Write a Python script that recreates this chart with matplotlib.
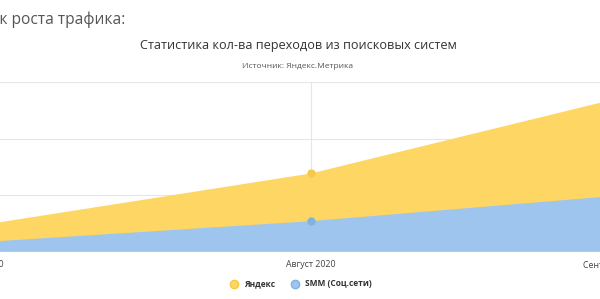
import numpy as np
import matplotlib.pyplot as plt
import matplotlib.transforms as mtransforms
from matplotlib.lines import Line2D

plt.rcParams['font.family'] = ['Open Sans', 'DejaVu Sans']

# data (visits per month)
months = ['Июль 2020', 'Август 2020', 'Сентябрь 2020']
yandex = [246, 693, 1390]
smm = [90, 272, 509]

c_yandex = '#fdd663'
c_smm = '#9ec5ee'

fig = plt.figure(figsize=(6, 2.99), dpi=100)
# axes is wider than the figure: the screenshot cuts off both ends
ax = fig.add_axes([-12 / 600, 47 / 299, 646 / 600, 170 / 299])

x = np.arange(len(months))
ax.fill_between(x, 0, yandex, color=c_yandex, lw=0, zorder=2)
ax.fill_between(x, 0, smm, color=c_smm, lw=0, zorder=3)
ax.plot(x, yandex, 'o', color='#f7c948', ms=5, zorder=4)
ax.plot(x, smm, 'o', color='#7fb2e5', ms=5, zorder=4)

ax.set_xlim(0, 2)
ax.set_ylim(0, 1500)
ax.set_yticks([0, 500, 1000, 1500])
ax.set_yticklabels([])
ax.set_xticks(x)
ax.set_xticklabels(months, fontsize=6.3, color='#444')
ax.tick_params(axis='x', length=0, pad=6)
ax.tick_params(axis='y', length=0)
ax.grid(True, color='#e6e6e6', lw=0.8, zorder=1)
for s in ax.spines.values():
    s.set_visible(False)
ax.axhline(0, color='#dde6f0', lw=1, zorder=5)

# edge labels are pushed inwards (as the chart lib does at the borders)
labels = ax.get_xticklabels()
labels[0].set_transform(labels[0].get_transform() +
                        mtransforms.ScaledTranslation(-8 / 100, 0, fig.dpi_scale_trans))
labels[-1].set_transform(labels[-1].get_transform() +
                         mtransforms.ScaledTranslation(-19 / 100, 0, fig.dpi_scale_trans))

fig.text(125 / 600, 1 - 20 / 299, 'График роста трафика:', ha='right', va='center',
         fontsize=11.2, color='#555')
fig.text(298 / 600, 1 - 45 / 299, 'Статистика кол-ва переходов из поисковых систем',
         ha='center', va='center', fontsize=9.1, color='#333')
fig.text(298 / 600, 1 - 66 / 299, 'Источник: Яндекс.Метрика',
         ha='center', va='center', fontsize=6, color='#555')

handles = [Line2D([], [], marker='o', ls='', color=c_yandex, ms=6, markeredgecolor='#f7c948'),
           Line2D([], [], marker='o', ls='', color=c_smm, ms=6, markeredgecolor='#7fb2e5')]
fig.legend(handles, ['Яндекс', 'SMM (Соц.сети)'], loc='center',
           bbox_to_anchor=(299 / 600, 1 - 284 / 299), ncol=2, frameon=False,
           prop={'size': 6, 'weight': 'bold'}, labelcolor='#333',
           handletextpad=0.2, columnspacing=1.4)

plt.savefig('out.png', dpi=100)
